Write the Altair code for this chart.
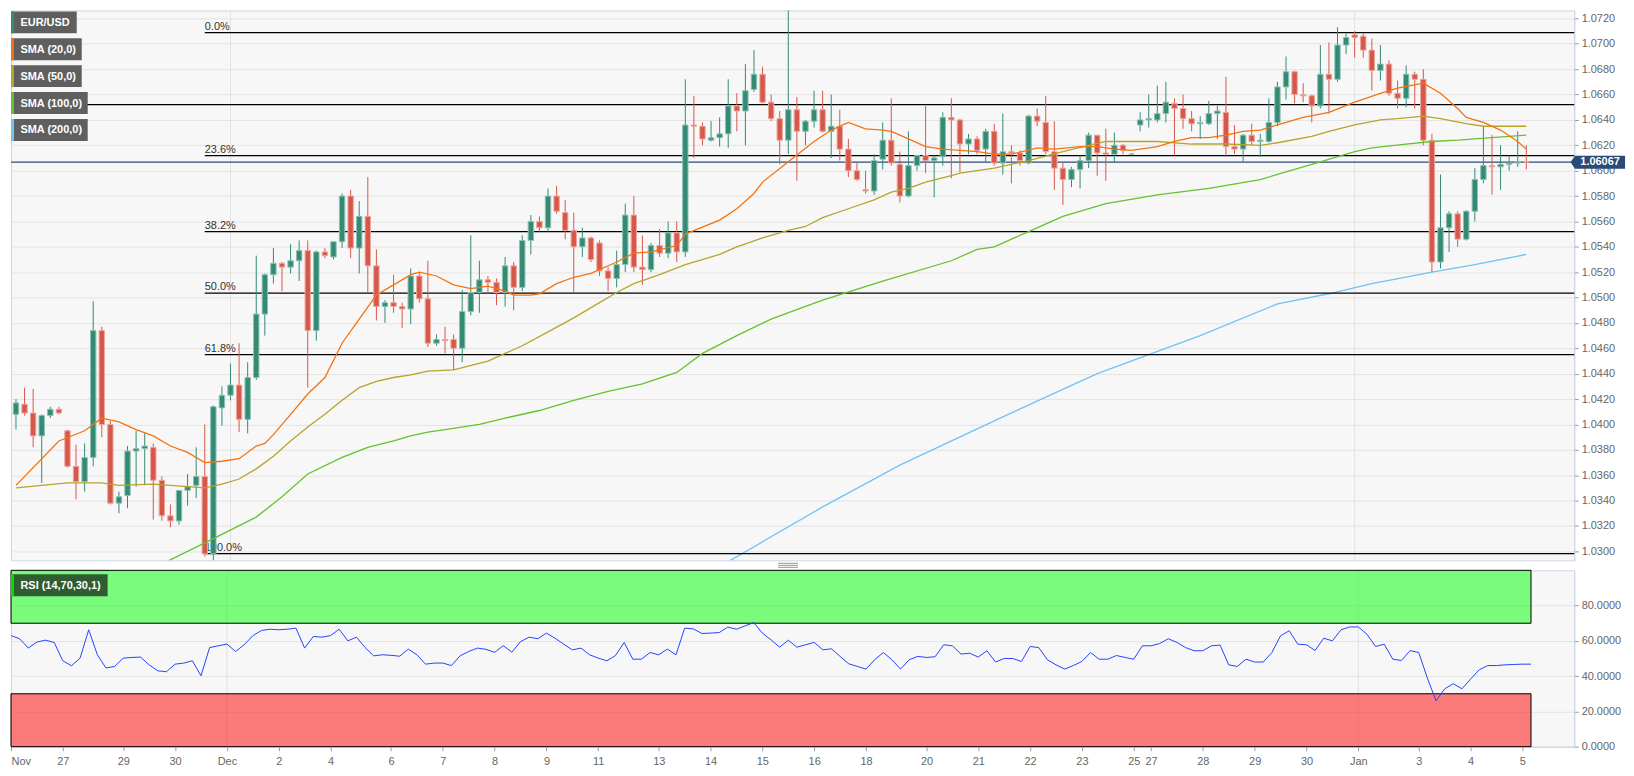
import altair as alt
import pandas as pd

FONT = "Liberation Sans"
W = 1569
H_MAIN = 552
H_RSI = 177

GREEN = "#358a74"
GREEN_EDGE = "#8cc2b3"
RED = "#d6584a"
RED_EDGE = "#eda79f"
C20 = "#f5730f"
C50 = "#b7a42a"
C100 = "#66c22b"
C200 = "#72c2f5"
RSI_BLUE = "#2444ff"
NAVY = "#2a4a78"

# ---------------- candles (4h) ----------------
candle_idx = list(range(177))
opens = [1.0408,1.0416,1.0409,1.0391,1.0407,1.0412,1.0395,1.0367,1.0355,1.0374,
         1.0474,1.0400,1.0338,1.0344,1.0379,1.0381,1.0382,1.0356,1.0328,1.0324,
         1.0348,1.0352,1.0359,1.0298,1.0413,1.0423,1.0431,1.0404,1.0437,1.0487,
         1.0518,1.0527,1.0524,1.0529,1.0537,1.0474,1.0536,1.0532,1.0544,1.0580,
         1.0539,1.0564,1.0525,1.0493,1.0496,1.0493,1.0491,1.0517,1.0499,1.0464,
         1.0467,1.0467,1.0460,1.0489,1.0504,1.0514,1.0512,1.0504,1.0525,1.0508,
         1.0545,1.0560,1.0555,1.0580,1.0567,1.0553,1.0540,1.0547,1.0543,1.0521,
         1.0515,1.0526,1.0565,1.0524,1.0522,1.0541,1.0535,1.0551,1.0536,1.0636,
         1.0635,1.0624,1.0626,1.0629,1.0651,1.0647,1.0664,1.0676,1.0654,1.0641,
         1.0624,1.0648,1.0631,1.0639,1.0648,1.0631,1.0635,1.0617,1.0600,1.0585,
         1.0584,1.0609,1.0624,1.0605,1.0580,1.0604,1.0612,1.0608,1.0611,1.0642,
         1.0640,1.0621,1.0625,1.0617,1.0631,1.0606,1.0615,1.0614,1.0606,1.0643,
         1.0638,1.0615,1.0602,1.0593,1.0601,1.0608,1.0628,1.0614,1.0613,1.0620,
         1.0613,1.0636,1.0640,1.0640,1.0645,1.0653,1.0649,1.0641,1.0637,1.0637,
         1.0645,1.0646,1.0619,1.0617,1.0628,1.0623,1.0623,1.0638,1.0666,1.0678,
         1.0660,1.0659,1.0651,1.0676,1.0672,1.0699,1.0707,1.0706,1.0695,1.0679,
         1.0684,1.0661,1.0657,1.0676,1.0672,1.0624,1.0528,1.0555,1.0566,1.0546,
         1.0568,1.0593,1.0604,1.0603,1.0605,1.0606,1.0607]
highs = [1.0420,1.0429,1.0428,1.0408,1.0414,1.0414,1.0396,1.0384,1.0385,1.0497,
         1.0477,1.0403,1.0347,1.0383,1.0395,1.0393,1.0385,1.0359,1.0337,1.0348,
         1.0361,1.0382,1.0400,1.0415,1.0430,1.0448,1.0464,1.0449,1.0533,1.0519,
         1.0539,1.0528,1.0542,1.0545,1.0545,1.0537,1.0539,1.0544,1.0582,1.0585,
         1.0576,1.0595,1.0538,1.0498,1.0518,1.0496,1.0523,1.0520,1.0529,1.0471,
         1.0477,1.0471,1.0506,1.0549,1.0529,1.0517,1.0515,1.0532,1.0528,1.0549,
         1.0565,1.0564,1.0586,1.0588,1.0577,1.0567,1.0555,1.0548,1.0545,1.0524,
         1.0537,1.0574,1.0580,1.0549,1.0543,1.0554,1.0560,1.0560,1.0672,1.0659,
         1.0638,1.0639,1.0642,1.0672,1.0661,1.0684,1.0695,1.0682,1.0660,1.0647,
         1.0735,1.0658,1.0640,1.0663,1.0663,1.0660,1.0648,1.0625,1.0606,1.0600,
         1.0613,1.0638,1.0657,1.0615,1.0631,1.0612,1.0651,1.0612,1.0646,1.0657,
         1.0641,1.0629,1.0627,1.0633,1.0637,1.0645,1.0620,1.0616,1.0644,1.0649,
         1.0659,1.0639,1.0606,1.0603,1.0612,1.0630,1.0628,1.0633,1.0630,1.0621,
         1.0614,1.0646,1.0660,1.0667,1.0670,1.0657,1.0660,1.0647,1.0643,1.0655,
         1.0651,1.0674,1.0636,1.0629,1.0637,1.0629,1.0657,1.0670,1.0690,1.0679,
         1.0669,1.0660,1.0699,1.0701,1.0713,1.0708,1.0710,1.0708,1.0704,1.0699,
         1.0687,1.0671,1.0683,1.0678,1.0680,1.0629,1.0597,1.0568,1.0568,1.0569,
         1.0602,1.0635,1.0628,1.0620,1.0612,1.0631,1.0620]
lows = [1.0396,1.0407,1.0382,1.0354,1.0405,1.0408,1.0366,1.0341,1.0347,1.0367,
        1.0390,1.0337,1.0330,1.0334,1.0351,1.0352,1.0325,1.0324,1.0319,1.0321,
        1.0336,1.0342,1.0296,1.0291,1.0399,1.0419,1.0394,1.0393,1.0435,1.0470,
        1.0511,1.0505,1.0519,1.0513,1.0429,1.0466,1.0531,1.0530,1.0539,1.0531,
        1.0519,1.0504,1.0482,1.0480,1.0488,1.0476,1.0479,1.0496,1.0461,1.0462,
        1.0456,1.0443,1.0449,1.0486,1.0488,1.0503,1.0494,1.0493,1.0490,1.0505,
        1.0534,1.0552,1.0552,1.0566,1.0546,1.0504,1.0532,1.0528,1.0517,1.0505,
        1.0508,1.0520,1.0520,1.0510,1.0520,1.0532,1.0531,1.0528,1.0532,1.0610,
        1.0620,1.0623,1.0619,1.0618,1.0631,1.0620,1.0662,1.0653,1.0639,1.0605,
        1.0613,1.0592,1.0620,1.0634,1.0630,1.0610,1.0608,1.0595,1.0592,1.0582,
        1.0581,1.0601,1.0604,1.0575,1.0579,1.0600,1.0598,1.0579,1.0604,1.0594,
        1.0599,1.0613,1.0613,1.0607,1.0604,1.0597,1.0590,1.0604,1.0605,1.0635,
        1.0613,1.0585,1.0573,1.0587,1.0586,1.0602,1.0596,1.0592,1.0606,1.0613,
        1.0612,1.0631,1.0634,1.0638,1.0638,1.0612,1.0633,1.0631,1.0625,1.0636,
        1.0625,1.0611,1.0613,1.0607,1.0620,1.0611,1.0622,1.0635,1.0656,1.0653,
        1.0654,1.0638,1.0649,1.0645,1.0670,1.0692,1.0689,1.0689,1.0663,1.0671,
        1.0659,1.0649,1.0650,1.0649,1.0620,1.0520,1.0523,1.0536,1.0540,1.0545,
        1.0560,1.0590,1.0581,1.0585,1.0600,1.0603,1.0601]
closes = [1.0417,1.0409,1.0391,1.0407,1.0412,1.0409,1.0367,1.0355,1.0374,1.0474,
          1.0400,1.0338,1.0343,1.0379,1.0381,1.0383,1.0356,1.0328,1.0324,1.0348,
          1.0351,1.0359,1.0298,1.0414,1.0423,1.0431,1.0404,1.0437,1.0487,1.0518,
          1.0527,1.0524,1.0529,1.0537,1.0474,1.0536,1.0533,1.0544,1.0580,1.0539,
          1.0564,1.0525,1.0493,1.0496,1.0493,1.0491,1.0517,1.0499,1.0464,1.0467,
          1.0466,1.0460,1.0489,1.0504,1.0514,1.0512,1.0504,1.0525,1.0508,1.0545,
          1.0560,1.0555,1.0580,1.0568,1.0553,1.0540,1.0547,1.0530,1.0521,1.0515,
          1.0526,1.0565,1.0524,1.0522,1.0541,1.0535,1.0551,1.0536,1.0636,1.0635,
          1.0625,1.0626,1.0629,1.0651,1.0647,1.0663,1.0676,1.0654,1.0641,1.0624,
          1.0648,1.0631,1.0639,1.0648,1.0631,1.0635,1.0617,1.0600,1.0593,1.0584,
          1.0608,1.0624,1.0606,1.0580,1.0604,1.0612,1.0608,1.0610,1.0642,1.0640,
          1.0621,1.0625,1.0616,1.0631,1.0606,1.0615,1.0614,1.0608,1.0643,1.0639,
          1.0615,1.0602,1.0593,1.0601,1.0608,1.0628,1.0614,1.0613,1.0620,1.0616,
          1.0613,1.0640,1.0641,1.0645,1.0654,1.0649,1.0641,1.0637,1.0638,1.0645,
          1.0647,1.0619,1.0617,1.0628,1.0623,1.0624,1.0638,1.0666,1.0678,1.0660,
          1.0659,1.0651,1.0676,1.0672,1.0699,1.0705,1.0705,1.0695,1.0679,1.0684,
          1.0661,1.0657,1.0676,1.0672,1.0624,1.0528,1.0555,1.0566,1.0546,1.0568,
          1.0593,1.0604,1.0603,1.0605,1.0606,1.0607,1.06067]

# ---------------- moving averages ----------------
sma20_i = [0,5,8,10,12,14,16,18,20,22,24,26,28,29,30,32,34,36,38,40,42,44,46,47,49,51,53,55,57,58,
           60,61,63,65,67,70,72,74,77,78,82,84,86,87,90,93,95,97,99,101,102,104,106,108,110,112,114,116,119,121,
           124,126,128,130,133,135,137,139,141,143,145,147,150,153,156,159,161,164,166,168,169,171,173,175,176]
sma20_v = [1.0352,1.0387,1.0395,1.0405,1.0402,1.0396,1.0391,1.0383,1.0378,1.0370,
           1.0371,1.0373,1.0383,1.0385,1.0392,1.0408,1.0424,1.0437,1.0464,1.0483,
           1.0502,1.0510,1.0518,1.0520,1.0517,1.0510,1.0507,1.0509,1.0505,1.0502,
           1.0502,1.0503,1.0511,1.0516,1.0519,1.0528,1.0535,1.0536,1.0541,1.0550,
           1.0561,1.0570,1.0582,1.0591,1.0607,1.0623,1.0632,1.0638,1.0633,1.0632,
           1.0631,1.0625,1.0619,1.0617,1.0616,1.0615,1.0613,1.0613,1.0618,1.0617,
           1.0619,1.0619,1.0617,1.0616,1.0619,1.0623,1.0626,1.0626,1.0628,1.0631,
           1.0632,1.0636,1.0642,1.0646,1.0654,1.0661,1.0665,1.0669,1.0661,1.0649,
           1.0642,1.0638,1.0632,1.0623,1.0617]
sma50_i = [0,3,6,10,12,16,18,20,22,24,26,28,30,32,34,36,38,40,42,44,46,48,51,55,57,59,62,65,68,70,
           72,75,78,82,84,87,90,92,94,97,100,102,104,106,109,110,112,114,118,122,125,127,129,133,137,141,
           145,147,151,153,156,159,161,164,166,169,171,176]
sma50_v = [1.0350,1.0352,1.0354,1.0354,1.0352,1.0353,1.0352,1.0351,1.0350,1.0353,
           1.0357,1.0365,1.0375,1.0387,1.0398,1.0408,1.0419,1.0429,1.0434,1.0437,
           1.0439,1.0442,1.0443,1.0450,1.0456,1.0462,1.0473,1.0484,1.0496,1.0504,
           1.0511,1.0518,1.0526,1.0534,1.0540,1.0547,1.0553,1.0556,1.0563,1.0570,
           1.0577,1.0583,1.0586,1.0591,1.0596,1.0598,1.0600,1.0602,1.0608,1.0615,
           1.0620,1.0623,1.0623,1.0623,1.0621,1.0621,1.0620,1.0622,1.0627,1.0631,
           1.0636,1.0640,1.0641,1.0643,1.0641,1.0637,1.0635,1.0635]
sma100_i = [16,17,23,28,31,34,38,41,44,46,48,50,54,57,61,65,69,73,77,80,84,88,92,94,101,109,112,114,
            118,122,127,133,139,145,148,152,156,158,162,165,168,172,176]
sma100_v = [1.0287,1.0290,1.0310,1.0327,1.0343,1.0361,1.0374,1.0382,1.0387,1.0391,
            1.0394,1.0396,1.0400,1.0405,1.0411,1.0419,1.0426,1.0432,1.0441,1.0456,
            1.0470,1.0483,1.0493,1.0498,1.0513,1.0529,1.0538,1.0540,1.0552,1.0564,
            1.0574,1.0581,1.0586,1.0593,1.0599,1.0607,1.0615,1.0618,1.0621,1.0623,
            1.0624,1.0626,1.0628]
sma200_i = [82,94,103,115,126,138,147,153,158,165,170,176]
sma200_v = [1.0288,1.0335,1.0368,1.0406,1.0440,1.0470,1.0495,1.0503,1.0511,1.0520,1.0526,1.0534]

# ---------------- RSI (14) ----------------
rsi = [63.0,61.2,55.9,59.3,60.4,59.1,48.7,45.9,50.2,66.3,
       52.1,44.6,45.5,50.2,50.6,50.8,46.4,43.0,42.5,46.8,
       47.4,48.7,40.2,56.2,57.2,58.2,54.0,57.8,62.9,65.9,
       66.6,66.3,66.6,67.2,55.9,62.5,62.1,63.0,66.6,60.0,
       62.1,56.2,51.5,52.1,51.8,51.3,55.3,52.1,46.8,47.4,
       47.4,46.0,51.5,54.0,55.9,55.2,53.5,57.3,53.6,59.6,
       62.1,61.2,64.4,61.5,58.1,54.9,55.9,52.1,50.2,48.7,
       51.7,59.1,49.6,49.6,53.4,52.1,55.3,52.1,67.2,66.8,
       64.2,64.4,64.7,67.8,66.6,68.5,70.4,64.4,60.6,56.4,
       60.4,56.4,57.8,59.1,54.9,55.5,51.2,47.0,45.5,44.0,
       49.3,53.4,49.3,44.0,49.3,51.2,50.6,51.0,57.8,57.2,
       52.5,53.0,50.8,54.4,48.0,50.0,50.0,48.3,56.8,56.2,
       49.3,46.4,44.0,46.0,48.3,53.4,49.6,49.6,51.7,50.6,
       49.6,57.2,57.2,58.5,61.2,59.1,56.2,54.4,54.4,57.2,
       57.6,46.4,45.5,49.6,48.0,48.0,53.4,62.9,65.7,58.1,
       57.8,54.5,61.5,60.0,66.3,67.9,67.9,63.8,56.8,58.1,
       49.6,48.9,54.5,53.4,38.9,26.0,32.8,35.7,32.8,38.3,
       43.6,46.0,46.0,46.4,46.6,46.8,46.8]

# ---------------- axes / levels ----------------
tick_idx = [0,6,13,19,25,31,37,44,50,56,62,68,75,81,87,93,99,106,112,118,124,130,132,138,144,150,156,163,169,175]
tick_lab = ["Nov","27","29","30","Dec","2","4","6","7","8","9","11","13","14","15","16","18","20",
            "21","22","23","25","27","28","29","30","Jan","3","4","5"]
price_ticks = [1.0300,1.0320,1.0340,1.0360,1.0380,1.0400,1.0420,1.0440,1.0460,1.0480,1.0500,
               1.0520,1.0540,1.0560,1.0580,1.0600,1.0620,1.0640,1.0660,1.0680,1.0700,1.0720]
rsi_ticks = [0,20,40,60,80]

fib_levels = [1.07088,1.06119,1.05520,1.05035,1.04551,1.02982]
fib_labels = ["0.0%","23.6%","38.2%","50.0%","61.8%","100.0%"]
fib_start = 22
extra_level = [1.0652]

legend_labels = ["EUR/USD","SMA (20,0)","SMA (50,0)","SMA (100,0)","SMA (200,0)"]
legend_colors = [GREEN, C20, C50, C100, C200]
legend_widths = [66, 71, 71, 77, 77]
legend_tops = [1, 28, 55, 82, 109]

# ---------------- scales ----------------
xs = alt.Scale(domain=[0, 181], nice=False, zero=False)
ys = alt.Scale(domain=[1.02929, 1.07263], nice=False, zero=False)
rs = alt.Scale(domain=[0, 100], nice=False, zero=False)

YAX = alt.Axis(orient="right", values=price_ticks, format=".4f", grid=True, gridColor="#e4e4e4",
               tickSize=4, labelPadding=3, domainColor="#cdd5e5", tickColor="#999999", title=None)
RAX = alt.Axis(orient="right", values=rsi_ticks, format=".4f", grid=True, gridColor="#e4e4e4",
               tickSize=4, labelPadding=3, domainColor="#cdd5e5", tickColor="#999999", title=None)
label_expr = ("[" + ",".join("'%s'" % t for t in tick_lab) + "][indexof(["
              + ",".join(str(v) for v in tick_idx) + "], datum.value)]")
XAX = alt.Axis(values=tick_idx, labelExpr=label_expr, labelFlush=True, labelOverlap=False,
               grid=False, tickSize=4, labelPadding=5, domainColor="#cdd5e5", tickColor="#999999",
               title=None)


def X(f):
    return alt.X(f, scale=xs, axis=None, title=None)


def Y(f):
    return alt.Y(f, scale=ys, axis=YAX, title=None)


def XR(f):
    return alt.X(f, scale=xs, axis=XAX, title=None)


def YR(f):
    return alt.Y(f, scale=rs, axis=RAX, title=None)


one = pd.DataFrame({"k": [0]})

# ---------------- main panel ----------------
candles = pd.DataFrame({"i": candle_idx, "open": opens, "high": highs, "low": lows, "close": closes})
months = pd.DataFrame({"i": [v for v, t in zip(tick_idx, tick_lab) if t in ("Dec", "Jan")]})

month_rules = alt.Chart(months).mark_rule(color="#e2e2e2", strokeWidth=1).encode(x=X("i:Q"))

up = alt.Chart(candles).transform_filter("datum.close >= datum.open")
dn = alt.Chart(candles).transform_filter("datum.close < datum.open")
wick_up = up.mark_rule(color=GREEN, strokeWidth=1, clip=True).encode(x=X("i:Q"), y=Y("low:Q"), y2="high:Q")
wick_dn = dn.mark_rule(color=RED, strokeWidth=1, clip=True).encode(x=X("i:Q"), y=Y("low:Q"), y2="high:Q")
body_up = up.mark_bar(color=GREEN, stroke=GREEN_EDGE, strokeWidth=1, width=5.4, clip=True).encode(
    x=X("i:Q"), y=Y("open:Q"), y2="close:Q")
body_dn = dn.mark_bar(color=RED, stroke=RED_EDGE, strokeWidth=1, width=5.4, clip=True).encode(
    x=X("i:Q"), y=Y("open:Q"), y2="close:Q")

sma_layers = []
for xi, yv, col in [(sma200_i, sma200_v, C200), (sma100_i, sma100_v, C100),
                    (sma50_i, sma50_v, C50), (sma20_i, sma20_v, C20)]:
    d = pd.DataFrame({"i": xi, "v": yv})
    sma_layers.append(alt.Chart(d).mark_line(color=col, strokeWidth=1.3, clip=True).encode(
        x=X("i:Q"), y=Y("v:Q")))

fib = pd.DataFrame({"level": fib_levels, "label": fib_labels, "start": [fib_start] * len(fib_levels)})
fib_rules = alt.Chart(fib).mark_rule(color="#000000", strokeWidth=1.3).encode(
    x=X("start:Q"), x2=alt.value(W), y=Y("level:Q"))
fib_text = alt.Chart(fib).mark_text(align="left", baseline="bottom", dy=-1, fontSize=11, font=FONT,
                                    color="#333333").encode(x=X("start:Q"), y=Y("level:Q"), text="label:N")
extra_rule = alt.Chart(pd.DataFrame({"level": extra_level})).mark_rule(color="#000000", strokeWidth=1.3).encode(
    x=alt.value(0), x2=alt.value(W), y=Y("level:Q"))

last = pd.DataFrame({"price": [closes[-1]]})
price_line = alt.Chart(last).mark_rule(color=NAVY, strokeWidth=1.3).encode(
    x=alt.value(0), x2=alt.value(W), y=Y("price:Q"))
TAG = "M -1 0 L -0.84 -0.24 L 1 -0.24 L 1 0.24 L -0.84 0.24 Z"
price_tag = alt.Chart(last).mark_point(shape=TAG, size=2990, filled=True, opacity=1, color=NAVY).encode(
    x=alt.value(W + 23.7), y=Y("price:Q"))
price_txt = alt.Chart(last).mark_text(color="white", fontWeight="bold", fontSize=11, font=FONT,
                                      align="center", baseline="middle").encode(
    x=alt.value(W + 26), y=Y("price:Q"), text=alt.Text("price:Q", format=".5f"))

legend_layers = []
for lab, col, wd, top in zip(legend_labels, legend_colors, legend_widths, legend_tops):
    d = pd.DataFrame({"t": [lab]})
    legend_layers.append(alt.Chart(d).mark_rect(color="#5f5f5f").encode(
        x=alt.value(0), x2=alt.value(wd), y=alt.value(top), y2=alt.value(top + 22)))
    legend_layers.append(alt.Chart(d).mark_rect(color=col).encode(
        x=alt.value(0), x2=alt.value(3), y=alt.value(top), y2=alt.value(top + 22)))
    legend_layers.append(alt.Chart(d).mark_text(align="left", baseline="middle", color="white",
                                                fontWeight="bold", fontSize=11, font=FONT).encode(
        x=alt.value(9.5), y=alt.value(top + 11.5), text="t:N"))

main = alt.layer(
    month_rules, *sma_layers[:1], extra_rule, fib_rules, fib_text, price_line,
    wick_up, wick_dn, body_up, body_dn, *sma_layers[1:], *legend_layers, price_tag, price_txt
).properties(width=W, height=H_MAIN)

# ---------------- RSI panel ----------------
rsi_df = pd.DataFrame({"i": candle_idx, "rsi": rsi})
zones = pd.DataFrame({"x0": [0, 0], "x1": [176, 176], "y0": [70, 0], "y1": [100, 30], "z": ["hi", "lo"]})

r_month = alt.Chart(months).mark_rule(color="#e2e2e2", strokeWidth=1).encode(x=XR("i:Q"))
z_hi = alt.Chart(zones).transform_filter("datum.z == 'hi'").mark_rect(
    fill="#00ff00", fillOpacity=0.5, stroke="#000000", strokeWidth=1).encode(
    x=XR("x0:Q"), x2="x1:Q", y=YR("y0:Q"), y2="y1:Q")
z_lo = alt.Chart(zones).transform_filter("datum.z == 'lo'").mark_rect(
    fill="#ff0000", fillOpacity=0.5, stroke="#000000", strokeWidth=1).encode(
    x=XR("x0:Q"), x2="x1:Q", y=YR("y0:Q"), y2="y1:Q")
rsi_line = alt.Chart(rsi_df).mark_line(color=RSI_BLUE, strokeWidth=1).encode(x=XR("i:Q"), y=YR("rsi:Q"))

rsi_lab = pd.DataFrame({"t": ["RSI (14,70,30,1)"]})
rsi_box = alt.Chart(rsi_lab).mark_rect(color="#2f5c30").encode(
    x=alt.value(0), x2=alt.value(97), y=alt.value(4), y2=alt.value(26))
rsi_stripe = alt.Chart(rsi_lab).mark_rect(color="#00e000").encode(
    x=alt.value(0), x2=alt.value(3), y=alt.value(4), y2=alt.value(26))
rsi_txt = alt.Chart(rsi_lab).mark_text(align="left", baseline="middle", color="white", fontWeight="bold",
                                        fontSize=11, font=FONT).encode(
    x=alt.value(9.5), y=alt.value(15.5), text="t:N")
grip = [alt.Chart(one).mark_rule(color="#999999", strokeWidth=1).encode(
    x=alt.value(770), x2=alt.value(790), y=alt.value(g)) for g in (-7, -5, -3)]

rsi_panel = alt.layer(r_month, z_hi, z_lo, rsi_line, rsi_box, rsi_stripe, rsi_txt, *grip).properties(
    width=W, height=H_RSI)

chart = alt.vconcat(main, rsi_panel, spacing=10, bounds="flush").properties(
    padding={"left": 0, "top": 0, "right": 0, "bottom": 0}, background="white"
).configure_view(fill="#f7f7f7", stroke="#cdd5e5").configure_axis(
    labelFont=FONT, labelFontSize=11, labelColor="#666666"
)

chart.save("out.html", embed_options={"renderer": "svg", "actions": False})
